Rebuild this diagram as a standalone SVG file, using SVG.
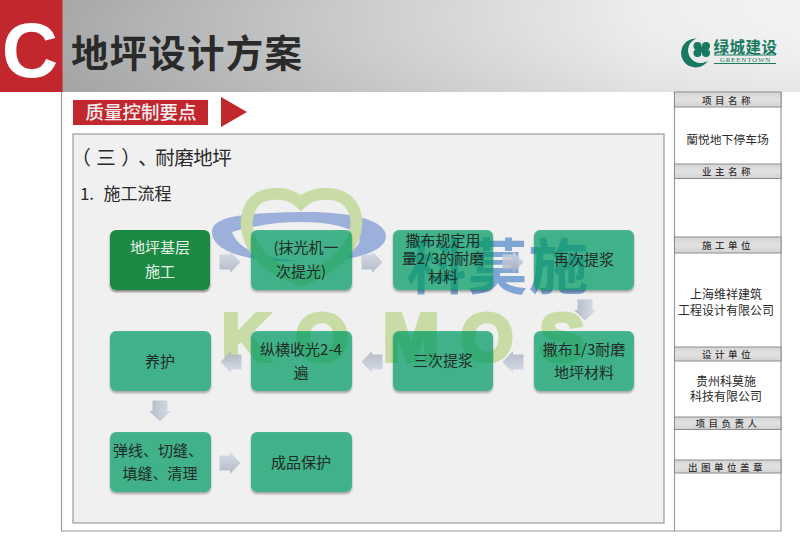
<svg xmlns="http://www.w3.org/2000/svg" width="800" height="558" viewBox="0 0 800 558">
<defs>
<linearGradient id="hdr" x1="0" y1="0" x2="1" y2="0"><stop offset="0" stop-color="#a6a7a8"/><stop offset="0.45" stop-color="#cfd0d0"/><stop offset="0.8" stop-color="#eeeeee"/><stop offset="1" stop-color="#f3f3f3"/></linearGradient>
<linearGradient id="hdrv" x1="0" y1="0" x2="0" y2="1"><stop offset="0" stop-color="#ffffff" stop-opacity="0"/><stop offset="1" stop-color="#888888" stop-opacity="0.12"/></linearGradient>
<linearGradient id="arr" x1="0" y1="0" x2="0" y2="1"><stop offset="0" stop-color="#d3dbe8"/><stop offset="1" stop-color="#aab0bf"/></linearGradient>
<linearGradient id="cell" x1="0" y1="0" x2="0" y2="1"><stop offset="0" stop-color="#d4d4d4"/><stop offset="0.5" stop-color="#e2e2e2"/><stop offset="1" stop-color="#d2d2d2"/></linearGradient>
<filter id="sh" x="-10%" y="-10%" width="120%" height="125%">
<feFlood flood-color="#000" result="solid"/>
<feComposite in="solid" in2="SourceAlpha" operator="in" result="mask"/>
<feOffset in="mask" dy="1.500" result="off"/>
<feGaussianBlur in="off" stdDeviation="1" result="soft"/>
<feComposite in="soft" in2="mask" operator="out" result="outside"/>
<feComponentTransfer in="outside" result="faint"><feFuncA type="linear" slope="0.45"/></feComponentTransfer>
<feMerge><feMergeNode in="faint"/><feMergeNode in="SourceGraphic"/></feMerge>
</filter>
<filter id="bl" x="-10%" y="-10%" width="120%" height="120%"><feGaussianBlur stdDeviation="0.6"/></filter>
<path id="ar" d="M-10.500,-7.500 H0 V-11 L10.500,0 L0,11 V7.500 H-10.500 Z" fill="url(#arr)" filter="url(#bl)" opacity="0.85"/>
</defs>
<style>
text{font-family:"Noto Sans CJK SC","Liberation Sans",sans-serif;text-anchor:middle}
.n{fill:#009d64;fill-opacity:0.7;filter:url(#sh)}
.nt{font-size:15px;fill:#1f2c27}
.hc{fill:url(#cell);stroke:#8c8c8c;stroke-width:1}
.ht{font-size:9.500px;fill:#333;letter-spacing:3.500px;font-weight:500}
.st{font-size:12px;fill:#2b2b2b}
.ln{fill:none;stroke:#9a9a9a;stroke-width:1.200}
</style>
<rect width="800" height="558" fill="#fff"/>
<g id="header">
<rect x="62" y="0" width="738" height="92" fill="url(#hdr)"/>
<rect x="62" y="0" width="738" height="92" fill="url(#hdrv)"/>
<rect x="0" y="0" width="62.500" height="92" fill="#c1272d"/>
<text x="30" y="77" style="font-family:'Liberation Sans',sans-serif;font-size:78px;font-weight:700;fill:#fff">C</text>
<text x="187" y="67" style="font-size:37.500px;fill:#2a2a2a;font-weight:700;letter-spacing:1.200px">地坪设计方案</text>
</g>
<g id="logo">
<path d="M697,38.500 A14.500,14.500 0 1 0 708,60.500 A12.500,12.500 0 1 1 697,38.500 Z" fill="#17795f"/>
<g fill="#17795f"><circle cx="697.500" cy="46" r="4"/><circle cx="697.500" cy="53" r="4"/><circle cx="706" cy="46" r="4"/><circle cx="706" cy="53" r="4"/><circle cx="701.500" cy="49.500" r="3"/></g>
<text x="745.500" y="53" style="font-size:15.500px;fill:#17795f;font-weight:700;letter-spacing:.5px">绿城建设</text>
<text x="745.500" y="62" style="font-family:'Liberation Serif',serif;font-size:7px;fill:#17795f;letter-spacing:.8px">GREENTOWN</text>
<path d="M714,55 H776 M714,63.500 H776" stroke="#17795f" stroke-width="1" fill="none"/>
</g>
<g id="frame">
<path class="ln" d="M61.500,92 V531 H781 V92"/>
<path class="ln" d="M674.500,92 V531"/>
</g>
<g id="section-tag">
<rect x="73" y="100" width="135" height="25" fill="#c1272d"/>
<text x="141" y="119" style="font-size:18.500px;fill:#f6eeee;font-weight:500">质量控制要点</text>
<path d="M221,97 L247,112 L221,127 Z" fill="#c1272d"/>
</g>
<g id="panel">
<rect x="73" y="134" width="591" height="389" fill="#f0f0f0" stroke="#9a9a9a" stroke-width="1.200"/>
<text x="81 106 131 148 165 184 203 222" y="165" style="font-size:19.500px;fill:#2a2a2a">（三）、耐磨地坪</text>
<text x="87" y="200" style="font-size:17px;fill:#2a2a2a">1.</text>
<text x="137.500" y="200" style="font-size:17px;fill:#2a2a2a">施工流程</text>
</g>
<g id="side-panel">
<rect class="hc" x="674.500" y="92" width="106.500" height="15"/>
<text class="ht" x="728" y="104">项目名称</text>
<text x="727.500" y="144" style="font-size:11.800px;fill:#2b2b2b">蘭悦地下停车场</text>
<rect class="hc" x="674.500" y="164" width="106.500" height="14.500"/>
<text class="ht" x="728" y="175">业主名称</text>
<rect class="hc" x="674.500" y="237" width="106.500" height="16"/>
<text class="ht" x="728" y="249">施工单位</text>
<text class="st" x="726" y="299">上海维祥建筑</text>
<text class="st" x="726" y="315">工程设计有限公司</text>
<rect class="hc" x="674.500" y="347" width="106.500" height="14"/>
<text class="ht" x="728" y="358">设计单位</text>
<text class="st" x="726" y="386">贵州科莫施</text>
<text class="st" x="726" y="401">科技有限公司</text>
<rect class="hc" x="674.500" y="417" width="106.500" height="12.500"/>
<text class="ht" x="728" y="427">项目负责人</text>
<rect class="hc" x="674.500" y="460" width="106.500" height="13"/>
<text class="ht" x="727" y="471">出图单位盖章</text>
</g>
<g id="watermark">
<path fill-rule="evenodd" d="M212,232 C212,216 245,213 300,212 C350,211 386,220 386,236 C386,250 362,259 325,261 C358,253 368,240 352,231 C330,219 275,219 232,232 C238,250 262,258 300,261 C250,263 212,252 212,232 Z" fill="#9db0dc"/>
<path d="M301,203 C288,190 258,190 250,208 C240,230 252,264 301,280 C348,264 364,230 353,208 C344,190 314,190 301,203 Z" fill="none" stroke="#c9dca6" stroke-width="12"/>
<text x="498" y="289" style="font-size:60px;font-weight:700;fill:#7fa6d4;letter-spacing:1px">科莫施</text>
<text y="361" x="246 322 411 487 562" style="font-family:'Liberation Sans',sans-serif;font-size:68px;font-weight:700;fill:#c9dca6;stroke:#c9dca6;stroke-width:4">KOMOS</text>
</g>
<g id="connectors">
<use href="#ar" x="230" y="262"/>
<use href="#ar" x="372" y="262"/>
<use href="#ar" x="513" y="262"/>
<use href="#ar" transform="translate(585,310) rotate(90)"/>
<use href="#ar" transform="translate(513,362) rotate(180)"/>
<use href="#ar" transform="translate(372,362) rotate(180)"/>
<use href="#ar" transform="translate(231,362) rotate(180)"/>
<use href="#ar" transform="translate(160,411) rotate(90)"/>
<use href="#ar" x="230" y="463"/>
</g>
<g id="n1"><rect x="110" y="230" width="100" height="60" rx="6" fill="#1f8a45" filter="url(#sh)"/><text x="160" y="253" style="font-size:15px;fill:#e6f2e6">地坪基层</text><text x="160" y="277" style="font-size:15px;fill:#e6f2e6">施工</text></g>
<g id="n2"><rect class="n" x="251" y="230" width="101" height="60" rx="6"/><text class="nt" x="306" y="253">(抹光机一</text><text class="nt" x="301" y="277">次提光)</text></g>
<g id="n3"><rect class="n" x="393" y="230" width="100" height="60" rx="6"/><text class="nt" x="443" y="246">撒布规定用</text><text class="nt" x="443" y="264">量2/3的耐磨</text><text class="nt" x="443" y="282">材料</text></g>
<g id="n4"><rect class="n" x="534" y="230" width="100" height="60" rx="6"/><text class="nt" x="584" y="265">再次提浆</text></g>
<g id="n5"><rect class="n" x="110" y="331" width="101" height="60" rx="6"/><text class="nt" x="160" y="367">养护</text></g>
<g id="n6"><rect class="n" x="251" y="331" width="101" height="60" rx="6"/><text class="nt" x="301" y="355">纵横收光2-4</text><text class="nt" x="301" y="378">遍</text></g>
<g id="n7"><rect class="n" x="393" y="331" width="100" height="60" rx="6"/><text class="nt" x="443" y="366">三次提浆</text></g>
<g id="n8"><rect class="n" x="534" y="331" width="100" height="60" rx="6"/><text class="nt" x="584" y="355">撒布1/3耐磨</text><text class="nt" x="584" y="378">地坪材料</text></g>
<g id="n9"><rect class="n" x="110" y="432" width="101" height="60" rx="6"/><text class="nt" x="158" y="456">弹线、切缝、</text><text class="nt" x="160" y="479">填缝、清理</text></g>
<g id="n10"><rect class="n" x="251" y="432" width="101" height="60" rx="6"/><text class="nt" x="301" y="468">成品保护</text></g>
</svg>
